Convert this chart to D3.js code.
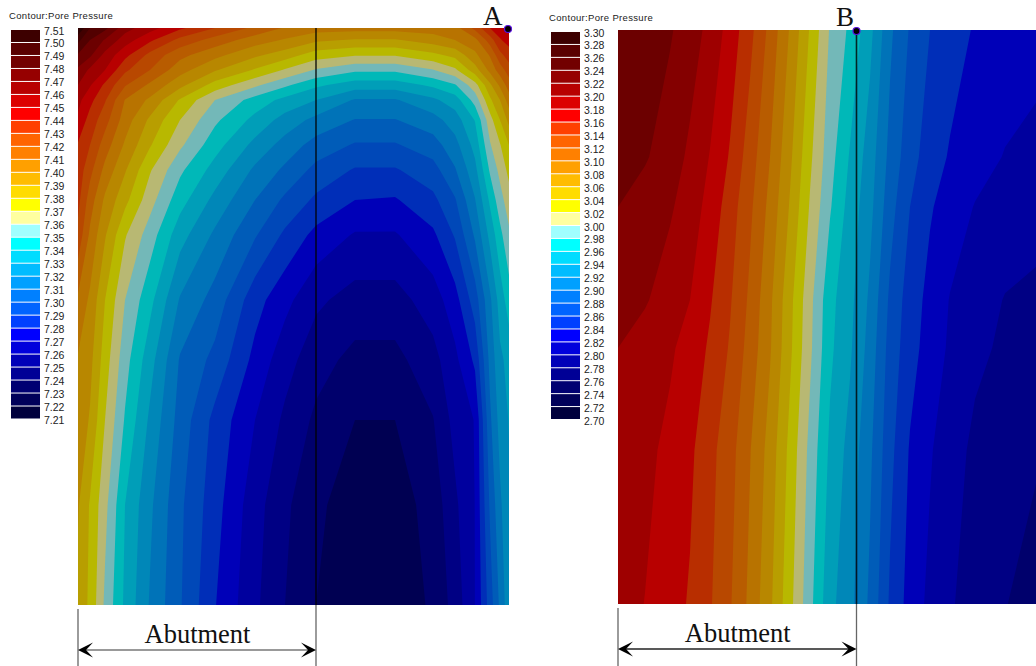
<!DOCTYPE html>
<html><head><meta charset="utf-8">
<script src="https://cdnjs.cloudflare.com/ajax/libs/d3/7.8.5/d3.min.js"></script>
<style>html,body{margin:0;padding:0;background:#fff;overflow:hidden}svg{display:block}</style>
</head><body><svg id="c" width="1036" height="666"></svg>
<script>
const legendTitle = "Contour:Pore Pressure";
const annotationLabel = "Abutment";
const legendA = ["7.51","7.50","7.49","7.48","7.47","7.46","7.45","7.44","7.43","7.42","7.41","7.40","7.39","7.38","7.37","7.36","7.35","7.34","7.33","7.32","7.31","7.30","7.29","7.28","7.27","7.26","7.25","7.24","7.23","7.22","7.21"];
const legendB = ["3.30","3.28","3.26","3.24","3.22","3.20","3.18","3.16","3.14","3.12","3.10","3.08","3.06","3.04","3.02","3.00","2.98","2.96","2.94","2.92","2.90","2.88","2.86","2.84","2.82","2.80","2.78","2.76","2.74","2.72","2.70"];
const bandColors = ["#3d0000","#5a0000","#720000","#960000","#b80000","#dc0000","#ff0000","#ff4000","#ff6400","#ff8000","#ffa000","#ffbc00","#ffdc00","#ffff00","#ffffa0","#a0ffff","#00ffff","#00dcff","#00bcff","#00a0ff","#0080ff","#0064ff","#0040ff","#0000ff","#0000dc","#0000b8","#000096","#000072","#00005a","#00003d"];

// Mesh stations of each section and pressure read at the nodes,
// given as number of legend steps above the lowest legend value.
const meshXA = [0,12,27,47,72,102,137,177,207,238,277,317,355,377,397,412,422,431];
const meshYA = [0,12,27,42,57,72,92,117,142,172,207,272,332,392,477,577];
const stepsA = [
[30,28,27.3,25.4,24.4,23.2,22,20.75,19.9,19.5,19.4,19.4,19.5,19.6,21.3,23,23.5,24],
[28.3,27,25.9,24.5,23.2,21.7,20.6,19.5,18.9,18.2,17.9,17.9,18.5,19,19.7,21.5,22.9,23.4],
[26.9,26.2,24.7,23.3,21.7,20.3,19.3,18.2,17.5,16.5,16.1,16.1,16.75,17.3,18.75,20.1,21.7,22.5],
[25.8,24.8,24,22.2,21,19.4,18.1,16.9,15.9,14.9,14.2,14.2,14.95,15.8,17.55,19.3,20.5,21.5],
[25,24.1,22.8,21.1,19.8,18.3,16.6,15.2,14.2,13.2,12.5,12.5,13.2,13.9,15.6,17.8,19.2,20.5],
[24.3,23.3,22.1,19.96,18.8,16.9,15,13.6,12.7,12,10.9,10.9,11.8,12.5,14.4,16.8,18,19.5],
[23.8,22.6,21.4,19.5,17.8,16,14.2,12.7,11.6,10.7,9.95,9.95,10.6,11.5,13.05,15.6,17,18.3],
[22.9,22,20.5,18.85,17.1,15.2,13.4,11.7,10.6,9.6,8.9,8.9,9.55,10.65,12.35,14.9,15.93,17],
[22.6,21.3,19.7,18.1,16.1,14.2,12.6,10.8,9.8,8.7,7.9,7.9,8.6,9.9,11.7,14.15,15.3,16.3],
[22.3,20.5,18.8,17.3,15.4,13.4,11.7,10,8.8,7.8,7,6.9,7.75,8.9,10.95,13.2,14.6,15.55],
[21.7,19.8,18.1,16.1,14.5,12.4,10.8,9.1,7.8,6.7,5.9,5.9,6.8,8.1,10.15,12.3,13.7,14.8],
[19.8,18.8,17,15,13.3,10.9,9.6,7.4,6.3,5.2,4.6,4.6,5.5,6.6,8.5,10.8,12.45,13.5],
[18.9,18.3,16.5,14.4,12.4,9.9,8.7,6.7,5.4,4.4,3.7,3.7,4.65,5.75,7.2,10.3,11.8,12.3],
[18.7,17.9,16,13.9,11.8,9.6,7.7,6,4.8,3.8,3,3,3.95,5.35,6.05,9.8,11.4,12.05],
[18.1,16.9,15.3,13,11.2,9.2,7.4,5.4,4.2,3.2,2.5,2.5,3.4,4.8,6.02,9.15,10.8,11.85],
[17.7,16.8,14.8,12.8,10.9,9.1,7.05,5.2,4,3,2.4,2.4,3.15,4.4,6.01,8.5,10.2,11.7]];

const meshXB = [0,27,52,72,92,112,132,152,172,192,212,232,252,272,292,312,332,357,387,418];
const meshYB = [0,127,177,270,318,420,574];
const stepsB = [
[26.7,26.4,26.1,25.5,24.7,23.6,22.3,20.7,18.9,16.9,14.9,13.8,12.3,10.2,8.9,8,7.5,6.9,6.6,6.4],
[26.3,26.1,25.5,24.8,23.95,22.9,21.5,20,18.2,16.2,14.4,12.9,11.5,9.7,8.4,7.5,6.9,6.4,5.95,5.7],
[26,25.55,25.13,24.5,23.65,22.5,21.2,19.7,17.9,15.9,14.1,12.6,11.3,9.4,8,7.1,6.55,5.95,5.65,5.36],
[25.6,25.1,24.5,24,23.1,22.1,20.8,19.2,17.3,15.3,13.3,12.3,10.8,8.8,7.5,6.7,5.95,5.5,4.95,4.8],
[25,24.55,24.15,23.6,22.85,21.9,20.6,19.1,17.2,15.2,13.2,12.15,10.6,8.6,7.4,6.55,5.85,5.2,4.85,4.6],
[24.65,24.25,23.75,23.2,22.3,21.4,20.05,18.6,16.7,14.7,12.8,11.65,10.2,8.3,6.9,6.1,5.4,4.8,4.45,4.14],
[24.4,23.98,23.4,22.9,22.1,21.1,19.75,18.2,16.3,14.3,12.3,11.3,9.8,7.85,6.6,5.75,5.1,4.6,4.05,3.5]];

const svg = d3.select("#c");
const shade = 0.72;   // the plotted bands are a darker shade of the legend swatches

function drawSection(o){
  const g = svg.append("g");
  const levels = o.legend.map(Number).slice().reverse();    // ascending
  const low = levels[0], step = levels[1]-levels[0];
  const nx = o.meshX.length, ny = o.meshY.length;
  const values = o.steps.flat().map(s => low + s*step);
  const xs = d3.scaleLinear().domain([o.meshX[0], o.meshX[nx-1]]).range(o.px);
  const ys = d3.scaleLinear().domain([o.meshY[0], o.meshY[ny-1]]).range(o.py);
  const ix = d3.scaleLinear().domain(o.meshX.map((_,i)=>i+.5)).range(o.meshX).clamp(true);
  const iy = d3.scaleLinear().domain(o.meshY.map((_,i)=>i+.5)).range(o.meshY).clamp(true);
  const path = d3.geoPath(d3.geoTransform({point(x,y){this.stream.point(xs(ix(x)),ys(iy(y)));}}));
  const bands = d3.contours().size([nx,ny]).thresholds(levels.slice(0,-1).map(v=>v-1e-9))(values);
  const colour = d => { const c=d3.rgb(o.colors[o.colors.length-1-d]);
    return d3.rgb(c.r*shade,c.g*shade,c.b*shade).formatHex(); };
  g.append("rect").attr("x",o.px[0]).attr("y",o.py[0]).attr("width",o.px[1]-o.px[0]).attr("height",o.py[1]-o.py[0]).attr("fill",colour(0));
  g.selectAll("path.band").data(bands).join("path").attr("class","band")
    .attr("d",path).attr("fill",(d,i)=>colour(i));

  // legend
  const ly = d3.scaleLinear().domain([0,o.legend.length-1]).range(o.legendY);
  const h = ly(1)-ly(0);
  g.selectAll("rect.sw").data(o.colors).join("rect").attr("class","sw")
    .attr("x",o.legendX).attr("y",(d,i)=>ly(i)).attr("width",29).attr("height",h-1).attr("fill",d=>d);
  g.selectAll("text.lb").data(o.legend).join("text").attr("class","lb")
    .attr("x",o.legendX+33).attr("y",(d,i)=>ly(i)+4.5)
    .attr("font-family","Liberation Sans").attr("font-size",10.5).attr("fill","#222").text(d=>d);
  g.append("text").attr("x",o.titleX).attr("y",o.legendY[0]-11)
    .attr("font-family","Liberation Sans").attr("font-size",9.5).attr("letter-spacing",.33).attr("fill","#222").text(legendTitle);

  // abutment lines and arrow
  const ax0 = o.px[0], ax1 = xs(o.abutment);
  g.append("line").attr("x1",ax1).attr("x2",ax1).attr("y1",o.py[0]).attr("y2",o.py[1]).attr("stroke","#000").attr("stroke-opacity",.8).attr("stroke-width",1.6);
  g.append("line").attr("x1",ax1).attr("x2",ax1).attr("y1",o.py[1]).attr("y2",666).attr("stroke","#666").attr("stroke-width",1.3);
  g.append("line").attr("x1",ax0).attr("x2",ax0).attr("y1",o.py[1]+4).attr("y2",666).attr("stroke","#666").attr("stroke-width",1.3);
  g.append("line").attr("x1",ax0+4).attr("x2",ax1-4).attr("y1",o.arrowY).attr("y2",o.arrowY).attr("stroke",o.arrowStroke).attr("stroke-width",1.5);
  const head = (x,dir)=>`M${x},${o.arrowY}L${x+dir*15},${o.arrowY-7.5}L${x+dir*8},${o.arrowY}L${x+dir*15},${o.arrowY+7.5}Z`;
  g.append("path").attr("d",head(ax0,1)+head(ax1,-1)).attr("fill","#000");
  g.append("text").attr("x",(ax0+ax1)/2+.5).attr("y",o.arrowY-7).attr("text-anchor","middle")
    .attr("font-family","Liberation Serif").attr("font-size",26.5).attr("fill","#111").text(annotationLabel);

  // point label
  g.append("circle").attr("cx",xs(o.point)).attr("cy",o.py[0]+1).attr("r",3.5).attr("fill","#000").attr("stroke","#5a10e0").attr("stroke-width",1.2);
  g.append("text").attr("x",o.labelX).attr("y",o.labelY).attr("font-family","Liberation Serif").attr("font-size",27).attr("fill","#111").text(o.name);
}

drawSection({name:"A",legend:legendA,colors:bandColors,meshX:meshXA,meshY:meshYA,steps:stepsA,
  px:[78,509],py:[28,605],legendX:11,legendY:[30,419.5],titleX:9,abutment:238,point:430,
  arrowY:650,arrowStroke:"#777",labelX:483,labelY:25});
drawSection({name:"B",legend:legendB,colors:bandColors,meshX:meshXB,meshY:meshYB,steps:stepsB,
  px:[618,1036],py:[30,604],legendX:551,legendY:[32,420],titleX:549,abutment:238.5,point:238.5,
  arrowY:649,arrowStroke:"#222",labelX:836,labelY:26});
</script></body></html>
